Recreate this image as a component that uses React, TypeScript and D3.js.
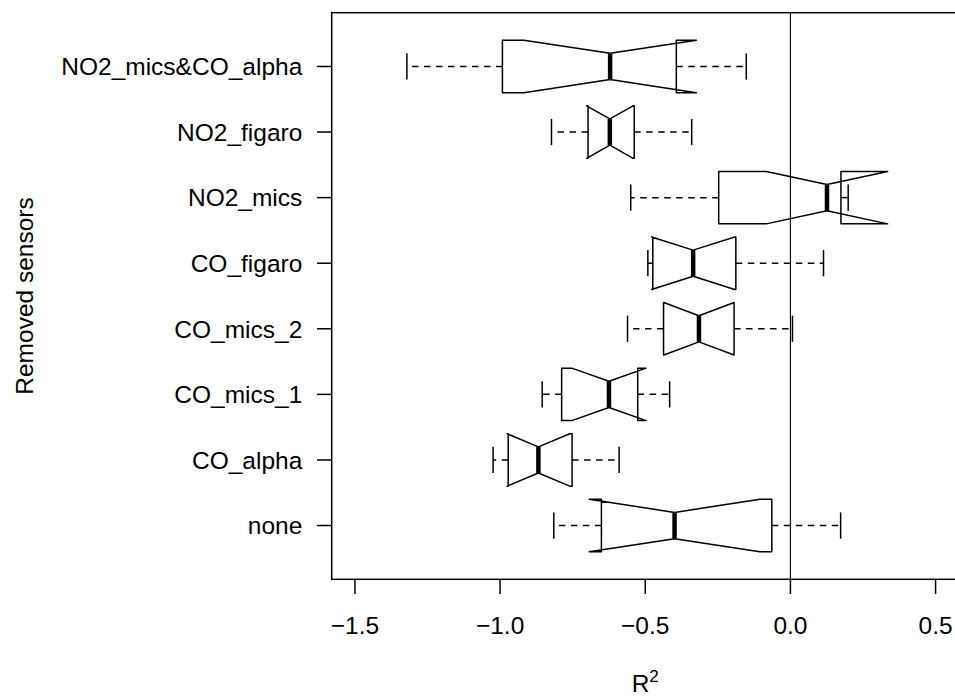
import React from "react";
import * as d3 from "d3";

// Categories from bottom (position 1) to top (position 8)
const categories = [
  "none",
  "CO_alpha",
  "CO_mics_1",
  "CO_mics_2",
  "CO_figaro",
  "NO2_mics",
  "NO2_figaro",
  "NO2_mics&CO_alpha",
];

// Boxplot statistics (R^2)
const lowerWhisker = [-0.815, -1.024, -0.855, -0.561, -0.491, -0.55, -0.823, -1.321];
const q1 = [-0.651, -0.972, -0.788, -0.437, -0.474, -0.247, -0.697, -0.992];
const median = [-0.399, -0.868, -0.625, -0.315, -0.335, 0.126, -0.622, -0.621];
const q3 = [-0.064, -0.752, -0.526, -0.194, -0.188, 0.174, -0.538, -0.393];
const upperWhisker = [0.173, -0.59, -0.416, 0.007, 0.114, 0.199, -0.34, -0.152];
const notchHalf = [0.294, 0.108, 0.128, 0.121, 0.143, 0.209, 0.08, 0.297];

const xTicks = [-1.5, -1.0, -0.5, 0.0, 0.5];
const xTickLabels = ["\u22121.5", "\u22121.0", "\u22120.5", "0.0", "0.5"];

const W = 955;
const H = 697;
const plotLeft = 331.7;
const plotRight = 958.8;
const plotTop = 12.7;
const plotBottom = 579.3;
const FONT = "'Liberation Sans', Arial, Helvetica, sans-serif";
const FS = 24.5;
const LW = 1.5;

export default function App() {
  const x = d3.scaleLinear().domain([-1.58, 0.58]).range([plotLeft, plotRight]);
  const y = d3.scaleLinear().domain([0.18, 8.82]).range([plotBottom, plotTop]);
  const halfBox = Math.abs(y(0.4) - y(0));
  const nf = 0.5;
  const tickLen = 14.7;

  return (
    <svg
      width={W}
      height={H}
      viewBox={`0 0 ${W} ${H}`}
      style={{ position: "absolute", left: 0, top: 0, background: "#fff" }}
      fontFamily={FONT}
    >
      <rect x={0} y={0} width={W} height={H} fill="#fff" />
      {/* reference line at 0 */}
      <line x1={x(0)} x2={x(0)} y1={plotTop} y2={plotBottom} stroke="#000" strokeWidth={1.1} />

      {categories.map((c, i) => {
        const pos = i + 1;
        const cy = y(pos);
        const cLo = median[i] - notchHalf[i];
        const cHi = median[i] + notchHalf[i];
        const pts: [number, number][] = [
          [x(q1[i]), cy - halfBox],
          [x(q1[i]), cy + halfBox],
          [x(cLo), cy + halfBox],
          [x(median[i]), cy + nf * halfBox],
          [x(cHi), cy + halfBox],
          [x(q3[i]), cy + halfBox],
          [x(q3[i]), cy - halfBox],
          [x(cHi), cy - halfBox],
          [x(median[i]), cy - nf * halfBox],
          [x(cLo), cy - halfBox],
        ];
        const path = d3.line()(pts) + "Z";
        return (
          <g key={c}>
            {/* whiskers */}
            <line x1={x(q1[i])} x2={x(lowerWhisker[i])} y1={cy} y2={cy} stroke="#000" strokeWidth={LW} strokeDasharray="6.5,5.5" />
            <line x1={x(q3[i])} x2={x(upperWhisker[i])} y1={cy} y2={cy} stroke="#000" strokeWidth={LW} strokeDasharray="6.5,5.5" />
            {/* staples */}
            <line x1={x(lowerWhisker[i])} x2={x(lowerWhisker[i])} y1={cy - halfBox / 2} y2={cy + halfBox / 2} stroke="#000" strokeWidth={LW} />
            <line x1={x(upperWhisker[i])} x2={x(upperWhisker[i])} y1={cy - halfBox / 2} y2={cy + halfBox / 2} stroke="#000" strokeWidth={LW} />
            {/* notched box */}
            <path d={path} fill="none" stroke="#000" strokeWidth={LW} strokeLinejoin="round" />
            {/* median */}
            <line x1={x(median[i])} x2={x(median[i])} y1={cy - nf * halfBox} y2={cy + nf * halfBox} stroke="#000" strokeWidth={4.5} />
          </g>
        );
      })}

      {/* plot box */}
      <rect x={plotLeft} y={plotTop} width={plotRight - plotLeft} height={plotBottom - plotTop} fill="none" stroke="#000" strokeWidth={LW} />

      {/* x axis ticks and labels */}
      {xTicks.map((t, i) => (
        <g key={t}>
          <line x1={x(t)} x2={x(t)} y1={plotBottom} y2={plotBottom + tickLen} stroke="#000" strokeWidth={LW} />
          <text x={x(t)} y={634} textAnchor="middle" fontSize={FS} fill="#000">
            {xTickLabels[i]}
          </text>
        </g>
      ))}

      {/* y axis ticks and labels */}
      {categories.map((c, i) => {
        const cy = y(i + 1);
        return (
          <g key={"yl" + c}>
            <line x1={plotLeft - tickLen} x2={plotLeft} y1={cy} y2={cy} stroke="#000" strokeWidth={LW} />
            <text x={302.3} y={cy + 8.8} textAnchor="end" fontSize={FS} fill="#000">
              {c}
            </text>
          </g>
        );
      })}

      {/* axis titles */}
      <text x={(plotLeft + plotRight) / 2} y={692} textAnchor="middle" fontSize={FS} fill="#000">
        R<tspan fontSize={FS * 0.7} dy={-10}>2</tspan>
      </text>
      <text
        transform={`translate(33, ${(plotTop + plotBottom) / 2}) rotate(-90)`}
        textAnchor="middle"
        fontSize={FS}
        fill="#000"
      >
        Removed sensors
      </text>
    </svg>
  );
}
